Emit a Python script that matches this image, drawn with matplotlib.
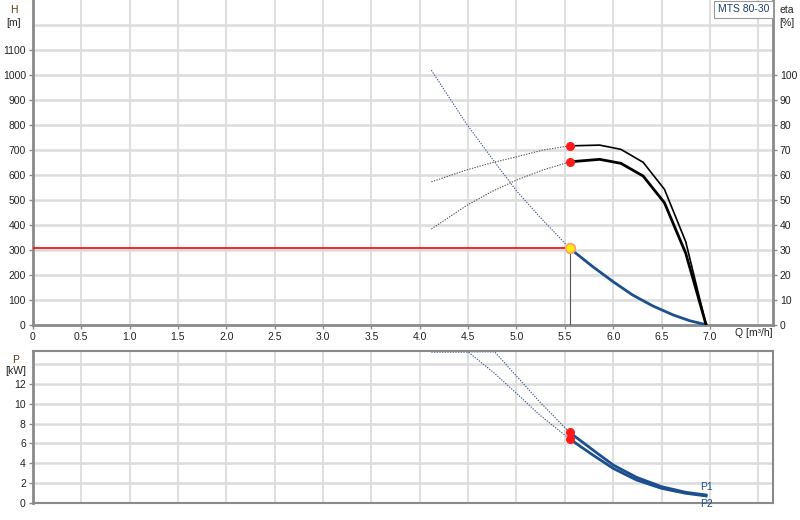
import matplotlib.pyplot as plt
import numpy as np

plt.rcParams['font.family'] = ['Liberation Sans', 'DejaVu Sans']

# head curve H [m]
q_h_dot = [4.12, 4.48, 4.76, 5.0, 5.24, 5.55]
h_dot = [1019, 806, 659, 536, 432, 306]
q_h = [5.55, 5.79, 6.0, 6.20, 6.41, 6.62, 6.79, 6.96]
h = [306, 232, 172, 119, 75, 39, 16, 0]

# efficiency curves eta [%]
q_eta_dot = [4.12, 4.48, 4.74, 5.0, 5.27, 5.55]
eta1_dot = [57.2, 61.9, 64.8, 67.2, 69.9, 71.6]
eta2_dot = [38.3, 47.6, 53.2, 57.9, 61.9, 65.2]
q_eta = [5.55, 5.86, 6.08, 6.31, 6.53, 6.75, 6.96]
eta1 = [71.6, 71.9, 70.2, 65.0, 54.2, 33.2, 0]
eta2 = [65.2, 66.2, 64.6, 59.5, 48.8, 28.6, 0]

# power curves P [kW]
q_p1_dot = [4.12, 4.775, 5.0, 5.24, 5.55]
p1_dot = [15.25, 15.25, 12.8, 10.2, 7.1]
q_p2_dot = [4.12, 4.50, 4.76, 5.0, 5.24, 5.55]
p2_dot = [15.25, 15.25, 13.2, 11.06, 8.87, 6.44]
q_p = [5.55, 5.79, 6.0, 6.24, 6.50, 6.75, 6.96]
p1 = [7.1, 5.33, 3.81, 2.57, 1.62, 1.05, 0.78]
p2 = [6.44, 4.82, 3.47, 2.30, 1.45, 0.95, 0.68]

# duty point
q_duty = 5.55
h_duty = 306

x_ticks = [0, 0.5, 1.0, 1.5, 2.0, 2.5, 3.0, 3.5, 4.0, 4.5, 5.0, 5.5, 6.0, 6.5, 7.0]
x_labels = ['0', '0.5', '1.0', '1.5', '2.0', '2.5', '3.0', '3.5', '4.0', '4.5',
            '5.0', '5.5', '6.0', '6.5', '7.0']

blue = '#1c4f8c'
grid_c = '#dcdcdc'
spine_c = '#8a8a8a'
dots = (0, (1.2, 1.2))
fs = 7.5

fig = plt.figure(figsize=(8, 5.2), dpi=100)
ax = fig.add_axes([0.041, 0.3756, 0.925, 0.6244])
ax2 = ax.twinx()
axp = fig.add_axes([0.041, 0.0333, 0.925, 0.2923])

# ---- top chart
ax.set_xlim(0, 7.65)
ax.set_ylim(0, 1300)
ax2.set_ylim(0, 130)
for xv in np.arange(0.5, 7.6, 0.5):
    ax.axvline(xv, color=grid_c, lw=1.3, zorder=0)
for yv in range(100, 1300, 100):
    ax.axhline(yv, color=grid_c, lw=1.8, zorder=0)

ax.plot(q_h_dot, h_dot, ls=dots, lw=0.8, color='#3d5a8a', zorder=3)
ax.plot(q_h, h, color=blue, lw=2, zorder=3)
ax2.plot(q_eta_dot, eta1_dot, ls=dots, lw=0.8, color='#555555')
ax2.plot(q_eta_dot, eta2_dot, ls=dots, lw=0.8, color='#555555')
ax2.plot(q_eta, eta1, color='black', lw=1.2)
ax2.plot(q_eta, eta2, color='black', lw=2)
ax2.plot([q_eta[0], q_eta[0]], [eta1[0], eta2[0]], ls='none', marker='o',
         ms=5.5, color='#ff1a1a')

ax.plot([0, q_duty], [h_duty, h_duty], color='red', lw=1.2, zorder=4)
ax.plot([q_duty, q_duty], [0, h_duty], color='#555555', lw=0.8, zorder=4)
ax2.plot([q_duty], [h_duty / 10], marker='o', ms=7, mfc='#ffee00',
         mec='#ff9a80', mew=1.2, zorder=6)

ax.set_xticks(x_ticks)
ax.set_xticklabels(x_labels)
ax.set_yticks(range(0, 1200, 100))
ax2.set_yticks(range(0, 110, 10))
for a in (ax, ax2):
    a.tick_params(labelsize=fs, length=3, width=1, color=spine_c, pad=2,
                  labelcolor='#222222')
    for s in a.spines.values():
        s.set_visible(False)
ax.spines['left'].set_visible(True)
ax.spines['bottom'].set_visible(True)
ax2.spines['right'].set_visible(True)
for s in (ax.spines['left'], ax.spines['bottom'], ax2.spines['right']):
    s.set_color(spine_c)
    s.set_linewidth(2)

fig.text(0.017, 0.99, 'H', fontsize=fs, ha='center', va='top', color='#5a3a1a')
fig.text(0.017, 0.965, '[m]', fontsize=fs, ha='center', va='top', color='#222222')
fig.text(0.983, 0.99, 'eta', fontsize=fs, ha='center', va='top', color='#222222')
fig.text(0.983, 0.965, '[%]', fontsize=fs, ha='center', va='top', color='#222222')
fig.text(0.919, 0.359, 'Q [m³/h]', fontsize=fs, ha='left', va='center', color='#222222')
fig.text(0.929, 0.982, 'MTS 80-30', fontsize=fs, ha='center', va='center', color='#1c3f70',
         bbox=dict(boxstyle='square,pad=0.35', fc='white', ec='#999999', lw=0.8))

# ---- power chart
axp.set_xlim(0, 7.65)
axp.set_ylim(0, 15.37)
for xv in np.arange(0.5, 7.6, 0.5):
    axp.axvline(xv, color=grid_c, lw=1.3, zorder=0)
for yv in range(2, 16, 2):
    axp.axhline(yv, color=grid_c, lw=1.8, zorder=0)

axp.plot(q_p1_dot, p1_dot, ls=dots, lw=0.8, color='#3d5a8a')
axp.plot(q_p2_dot, p2_dot, ls=dots, lw=0.8, color='#3d5a8a')
axp.plot(q_p, p1, color=blue, lw=2)
axp.plot(q_p, p2, color=blue, lw=2)
axp.plot([q_p[0], q_p[0]], [p1[0], p2[0]], ls='none', marker='o', ms=5.5,
         color='#ff1a1a', zorder=5)
axp.text(q_p[-1], p1[-1] + 0.3, 'P1', fontsize=fs, color=blue, ha='center', va='bottom')
axp.text(q_p[-1], p2[-1] - 0.3, 'P2', fontsize=fs, color=blue, ha='center', va='top')

axp.set_xticks(x_ticks)
axp.set_xticklabels([])
axp.tick_params(axis='x', length=0)
axp.set_yticks(range(0, 13, 2))
axp.tick_params(axis='y', labelsize=fs, length=3, width=1, color=spine_c, pad=2,
                labelcolor='#222222')
for s in axp.spines.values():
    s.set_color(spine_c)
    s.set_linewidth(1.5)
axp.spines['left'].set_linewidth(2)

fig.text(0.02, 0.318, 'P', fontsize=fs, ha='center', va='top', color='#5a3a1a')
fig.text(0.02, 0.296, '[kW]', fontsize=fs, ha='center', va='top', color='#222222')

fig.savefig('out.png', dpi=100)
